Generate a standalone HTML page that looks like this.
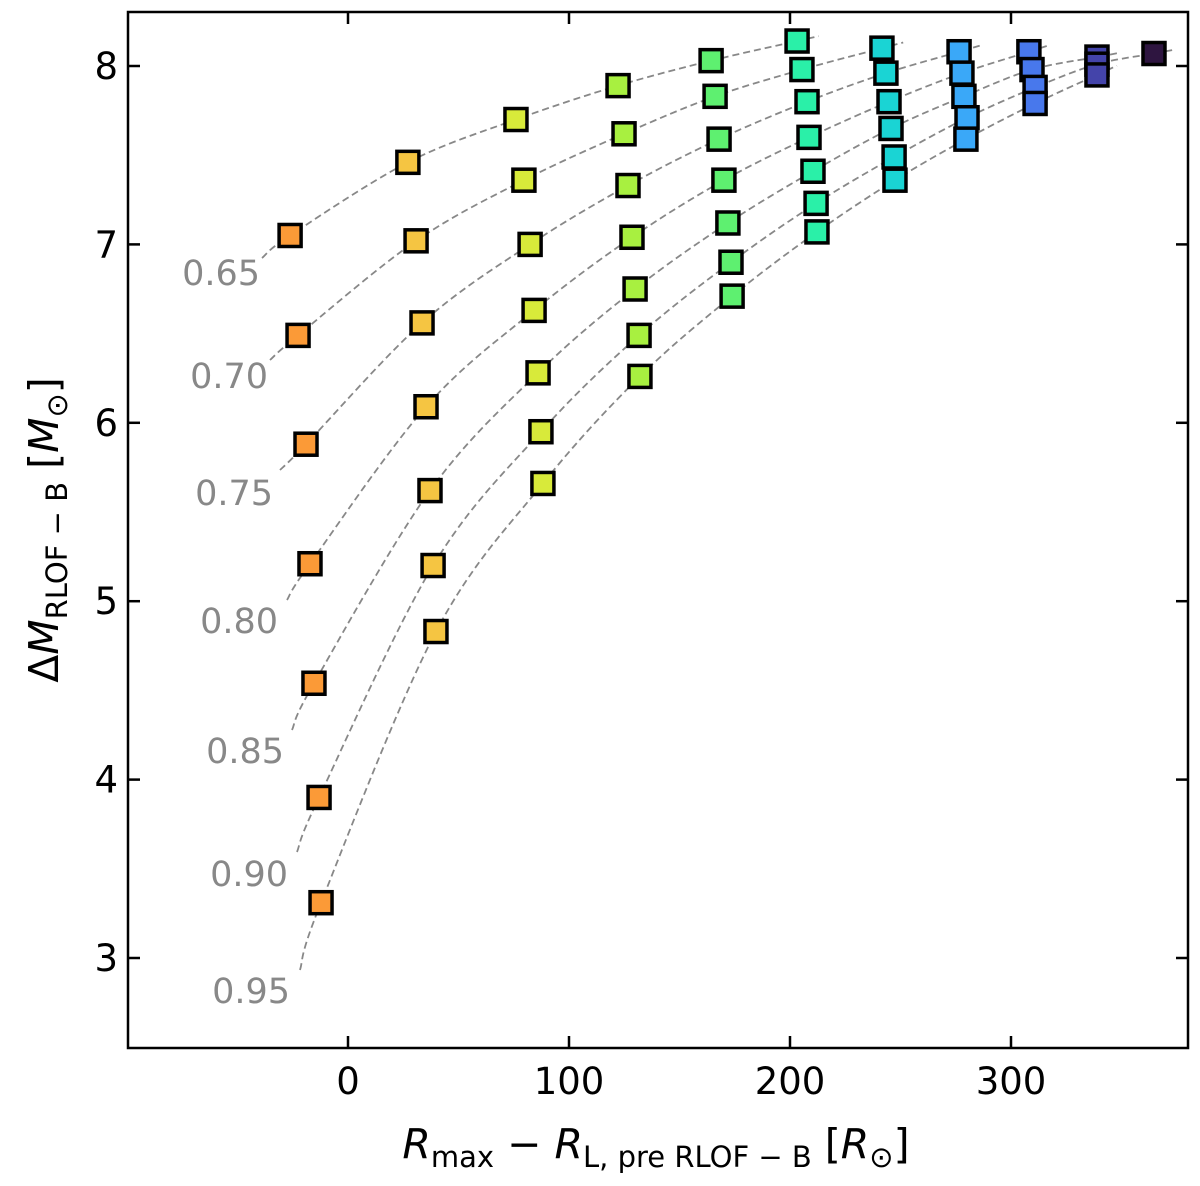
<!DOCTYPE html>
<html><head><meta charset="utf-8"><style>body{margin:0;background:#fff}svg{display:block;font-family:"DejaVu Sans","Liberation Sans",sans-serif}</style></head>
<body>
<svg id="chart" width="1200" height="1186" viewBox="0 0 1200 1186">
<g id="curves"></g>
<g id="marks"></g>
<g id="labels"></g>
<rect x="128" y="12" width="1060" height="1036" fill="none" stroke="#000" stroke-width="2.5"/>
<g id="axes"></g>
<text x="656" y="1158" text-anchor="middle" font-size="41"><tspan font-style="italic">R</tspan><tspan font-size="29" dy="9">max</tspan><tspan dy="-9"> − </tspan><tspan font-style="italic">R</tspan><tspan font-size="29" dy="9">L, pre RLOF − B</tspan><tspan dy="-9"> [</tspan><tspan font-style="italic">R</tspan><tspan font-size="29" dy="9">⊙</tspan><tspan dy="-9">]</tspan></text>
<text transform="translate(58,530) rotate(-90)" text-anchor="middle" font-size="41">Δ<tspan font-style="italic">M</tspan><tspan font-size="29" dy="9">RLOF − B</tspan><tspan dy="-9"> [</tspan><tspan font-style="italic">M</tspan><tspan font-size="29" dy="9">⊙</tspan><tspan dy="-9">]</tspan></text>
</svg>
<script>
const xTicks=[0,100,200,300];
const yTicks=[3,4,5,6,7,8];
const ratios=["0.65","0.70","0.75","0.80","0.85","0.90","0.95"];
const colX=[[-26.2,-22.6,-19.0,-17.2,-15.4,-13.1,-12.2],[27.1,30.8,33.5,35.3,37.1,38.5,39.8],[76.0,79.6,82.4,84.2,86.0,87.3,88.2],[122.2,124.9,126.7,128.5,129.9,131.7,132.1],[164.3,166.1,167.9,170.1,171.9,173.3,173.8],[203.2,205.4,207.7,208.6,210.4,211.8,212.2],[241.6,243.4,244.8,245.7,247.1,247.5],[276.5,277.8,278.7,280.1,279.6],[308.1,309.5,310.9,310.9],[338.9,338.9,338.9],[364.7]];
const colY=[[7.05,6.49,5.88,5.21,4.54,3.90,3.31],[7.46,7.02,6.56,6.09,5.62,5.20,4.83],[7.70,7.36,7.00,6.63,6.28,5.95,5.66],[7.89,7.62,7.33,7.04,6.75,6.49,6.26],[8.03,7.83,7.59,7.36,7.12,6.90,6.71],[8.14,7.98,7.80,7.60,7.41,7.23,7.07],[8.10,7.96,7.80,7.65,7.49,7.36],[8.08,7.96,7.83,7.71,7.59],[8.08,7.98,7.88,7.79],[8.05,8.01,7.95],[8.07]];
const colors=["#fb9a37","#f5c542","#d8ea3a","#a8f040","#5ef070","#2af0a8","#1ad4d4","#3aa8f8","#4878ec","#4444aa","#2e1540"];
const NS="http://www.w3.org/2000/svg";
const X=v=>348+2.21*v, Y=v=>66+(8-v)*178.4;
function mk(t,a,p){const e=document.createElementNS(NS,t);for(const k in a)e.setAttribute(k,a[k]);p.appendChild(e);return e;}
const axes=document.getElementById('axes');
xTicks.forEach(t=>{const x=X(t);
 const a=mk('line',{x1:x,x2:x,y1:1048,y2:1036,stroke:'#000','stroke-width':2.5},axes);
 
 
 mk('line',{x1:x,x2:x,y1:12,y2:24,stroke:'#000','stroke-width':2.5},axes);
 const l=mk('text',{x:x,y:1094,'text-anchor':'middle','font-size':37},axes);l.textContent=t;
 
 });
yTicks.forEach(t=>{const y=Y(t);
 const a=mk('line',{x1:128,x2:140,y1:y,y2:y,stroke:'#000','stroke-width':2.5},axes);
 
 
 mk('line',{x1:1176,x2:1188,y1:y,y2:y,stroke:'#000','stroke-width':2.5},axes);
 const l=mk('text',{x:118,y:y+13,'text-anchor':'end','font-size':37},axes);l.textContent=t;
 
 });
const cg=document.getElementById('curves'),lg=document.getElementById('labels');
const starts=[[262,258],[270,360],[280,470],[287,600],[292,730],[297,852],[300,970]];
const labPos=[[260,285],[268,388],[273,505],[278,633],[284,763],[288,886],[290,1003]];
ratios.forEach((r,i)=>{
 const pts=[starts[i]];
 colX.forEach((c,j)=>{const idx=j<=5?i:i-(j-5);if(idx>=0&&idx<c.length)pts.push([X(c[idx]),Y(colY[j][idx])]);});
 const a=pts[pts.length-2],b=pts[pts.length-1];const dx=b[0]-a[0],dy=b[1]-a[1],L=Math.hypot(dx,dy);
 pts.push([b[0]+dx/L*22,b[1]+dy/L*22]);
 let d='M'+pts[0][0]+','+pts[0][1];
 for(let k=0;k<pts.length-1;k++){const p0=pts[Math.max(0,k-1)],p1=pts[k],p2=pts[k+1],p3=pts[Math.min(pts.length-1,k+2)];
  d+=' C'+(p1[0]+(p2[0]-p0[0])/6)+','+(p1[1]+(p2[1]-p0[1])/6)+' '+(p2[0]-(p3[0]-p1[0])/6)+','+(p2[1]-(p3[1]-p1[1])/6)+' '+p2[0]+','+p2[1];}
 const c=mk('path',{d:d,fill:'none',stroke:'#888','stroke-width':1.8,'stroke-dasharray':'7,4'},cg);
 
 
 const t=mk('text',{x:labPos[i][0],y:labPos[i][1],'text-anchor':'end','font-size':35,fill:'#888'},lg);t.textContent=r;
 
 
});
const mg=document.getElementById('marks');
colX.forEach((c,j)=>c.forEach((xv,i)=>{
 const m=mk('rect',{x:X(xv)-11,y:Y(colY[j][i])-11,width:22,height:22,fill:colors[j],stroke:'#000','stroke-width':3.5},mg);
 
 
}));
</script>
</body></html>
